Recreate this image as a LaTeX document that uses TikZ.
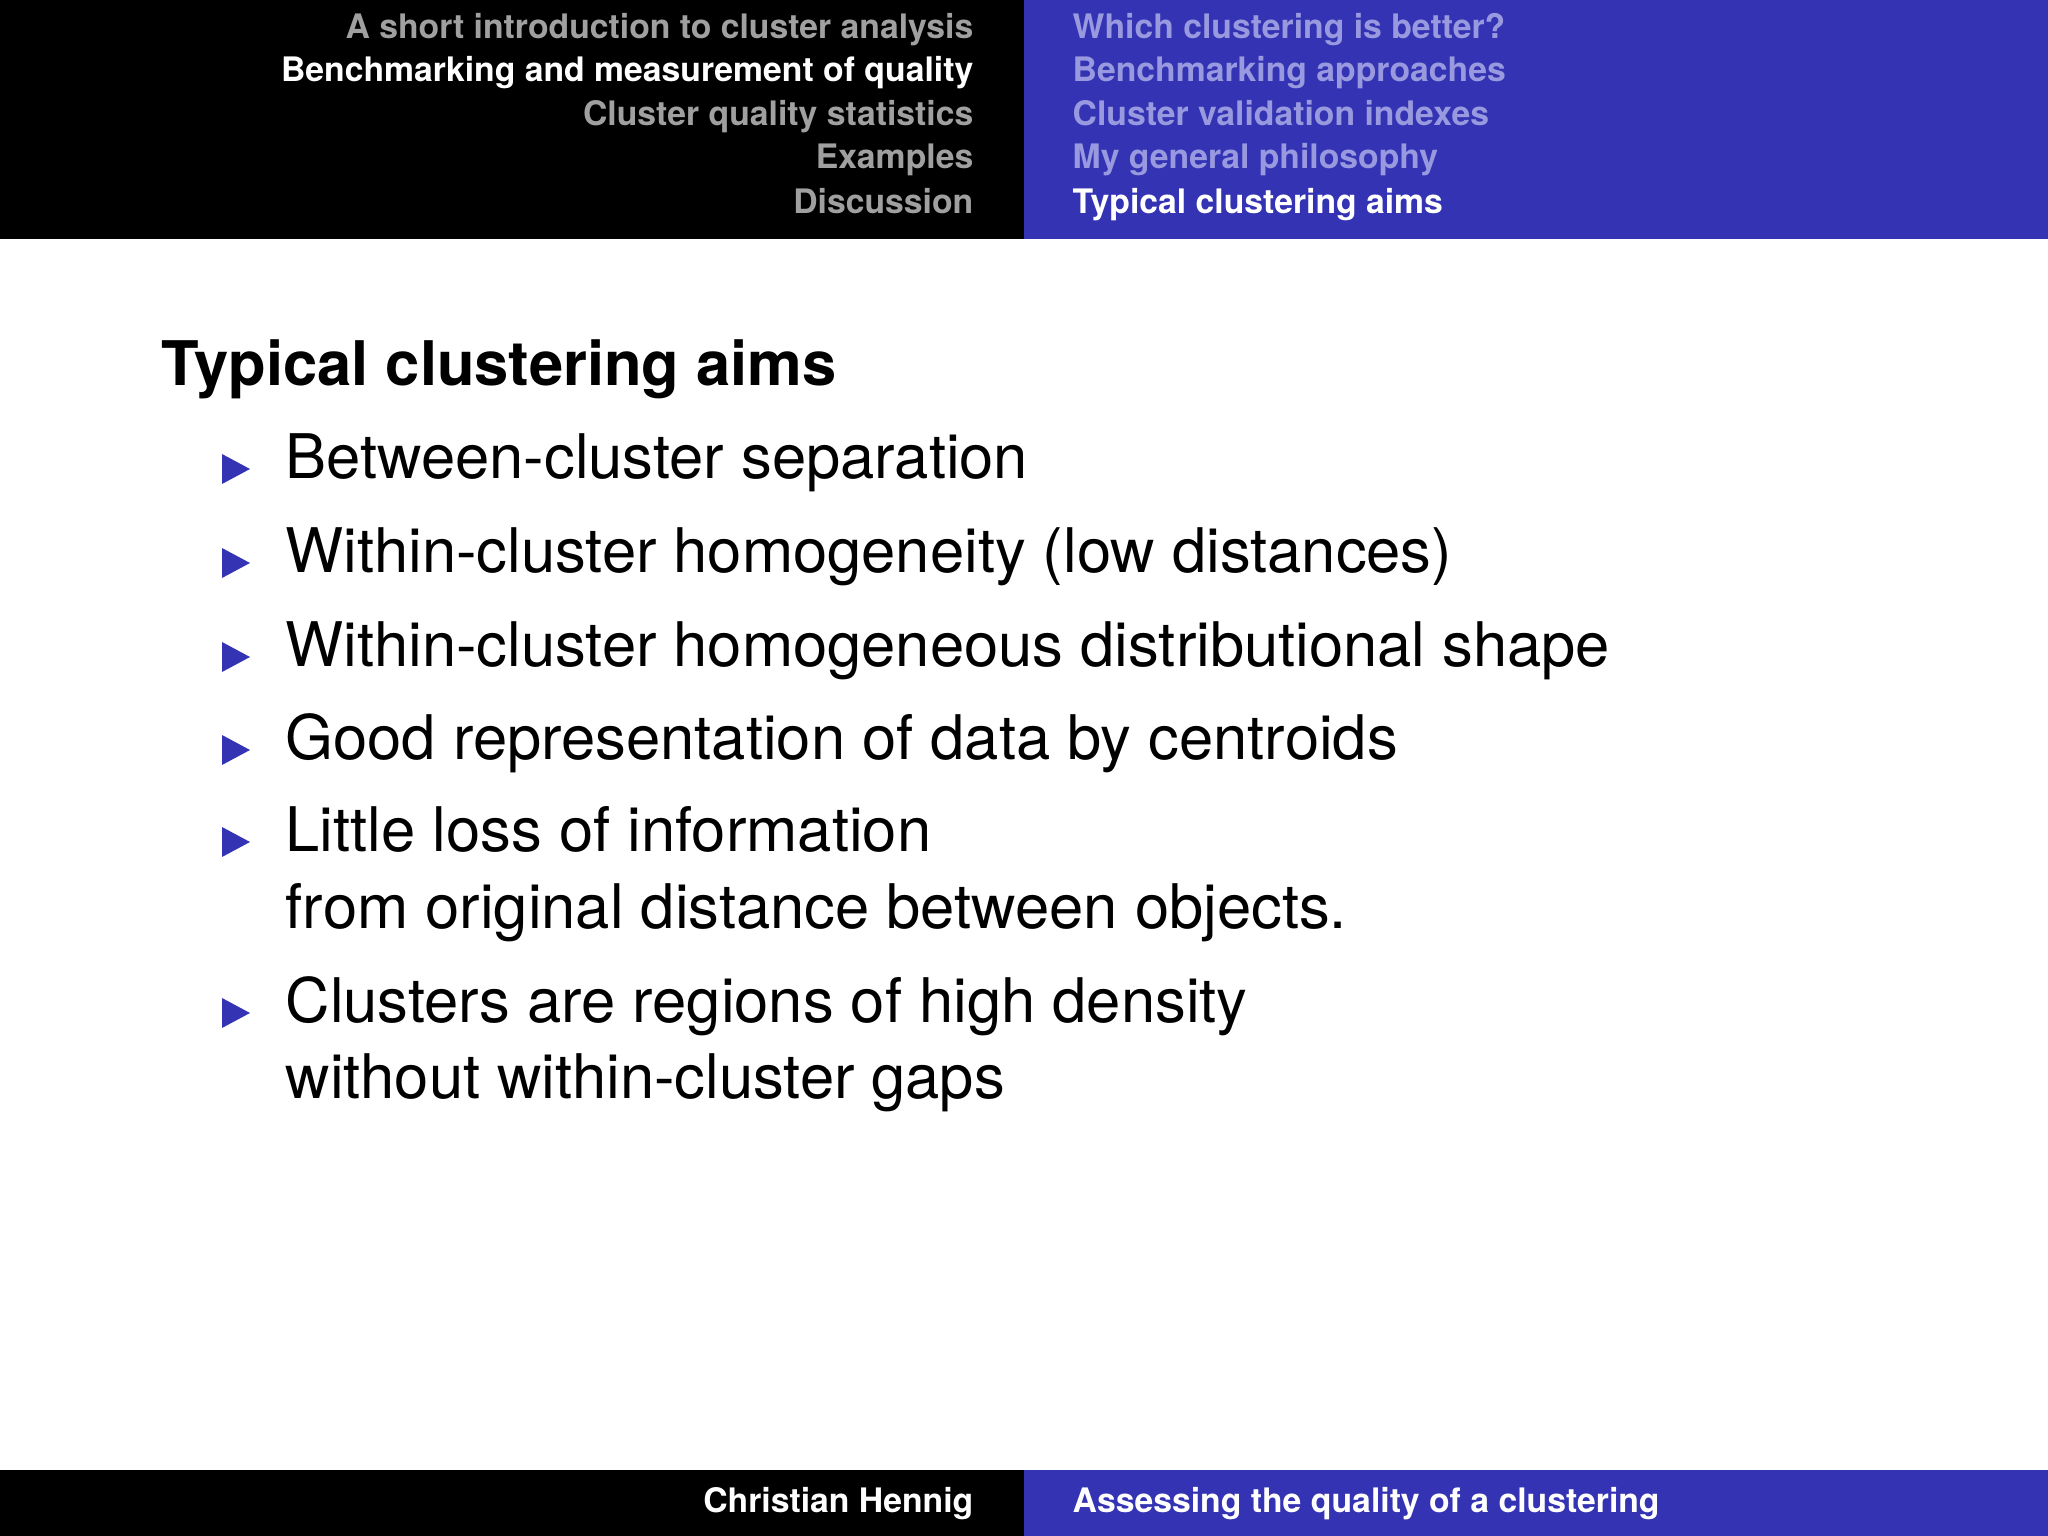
\documentclass[tikz,border=0pt]{standalone}
\usepackage{fontspec}
\setmainfont{TeX Gyre Heros}
\definecolor{bblue}{RGB}{51,51,179}
\definecolor{lblue}{RGB}{153,153,224}
\definecolor{lgray}{RGB}{160,160,160}
\tikzset{
 hl/.style={anchor=east,inner sep=0,text height=0.72em,text depth=0.2em,font=\fontsize{9.6}{11}\selectfont\bfseries},
 hr/.style={anchor=west,inner sep=0,text height=0.72em,text depth=0.2em,font=\fontsize{9.6}{11}\selectfont\bfseries},
 item/.style={anchor=west,inner sep=0,text height=0.72em,text depth=0.2em,font=\fontsize{17.5}{20}\selectfont}
}
\newcommand{\tri}[1]{\fill[bblue] (2.22,#1+0.15) -- (2.50,#1) -- (2.22,#1-0.15) -- cycle;}
\begin{document}
\begin{tikzpicture}
\useasboundingbox (0,0) rectangle (20.48,-15.36);
\fill[black] (0,0) rectangle (10.24,-2.39);
\fill[bblue] (10.24,0) rectangle (20.48,-2.39);
\fill[black] (0,-14.70) rectangle (10.24,-15.36);
\fill[bblue] (10.24,-14.70) rectangle (20.48,-15.36);
\node[hl,text=lgray] (l1) at (9.74,-0.29) {A short introduction to cluster analysis};
\node[hl,text=white] (l2) at (9.74,-0.72) {Benchmarking and measurement of quality};
\node[hl,text=lgray] (l3) at (9.74,-1.16) {Cluster quality statistics};
\node[hl,text=lgray] (l4) at (9.74,-1.59) {Examples};
\node[hl,text=lgray] (l5) at (9.74,-2.04) {Discussion};
\node[hr,text=lblue] (r1) at (10.72,-0.29) {Which clustering is better?};
\node[hr,text=lblue] (r2) at (10.72,-0.72) {Benchmarking approaches};
\node[hr,text=lblue] (r3) at (10.72,-1.16) {Cluster validation indexes};
\node[hr,text=lblue] (r4) at (10.72,-1.59) {My general philosophy};
\node[hr,text=white] (r5) at (10.72,-2.04) {Typical clustering aims};
\node[hl,text=white] (f1) at (9.74,-15.03) {Christian Hennig};
\node[hr,text=white] (f2) at (10.72,-15.03) {Assessing the quality of a clustering};
\node[anchor=west,inner sep=0,text height=0.72em,text depth=0.2em,font=\fontsize{17.5}{20}\selectfont\bfseries] (t) at (1.61,-3.76) {Typical clustering aims};
\tri{-4.69}\node[item] (i1) at (2.85,-4.69) {Between-cluster separation};
\tri{-5.63}\node[item] (i2) at (2.85,-5.63) {Within-cluster homogeneity (low distances)};
\tri{-6.57}\node[item] (i3) at (2.85,-6.57) {Within-cluster homogeneous distributional shape};
\tri{-7.50}\node[item] (i4) at (2.85,-7.50) {Good representation of data by centroids};
\tri{-8.42}\node[item] (i5) at (2.85,-8.42) {Little loss of information};
\node[item] (i5b) at (2.85,-9.19) {from original distance between objects.};
\tri{-10.13}\node[item] (i6) at (2.85,-10.13) {Clusters are regions of high density};
\node[item] (i6b) at (2.85,-10.89) {without within-cluster gaps};
\end{tikzpicture}
\end{document}
